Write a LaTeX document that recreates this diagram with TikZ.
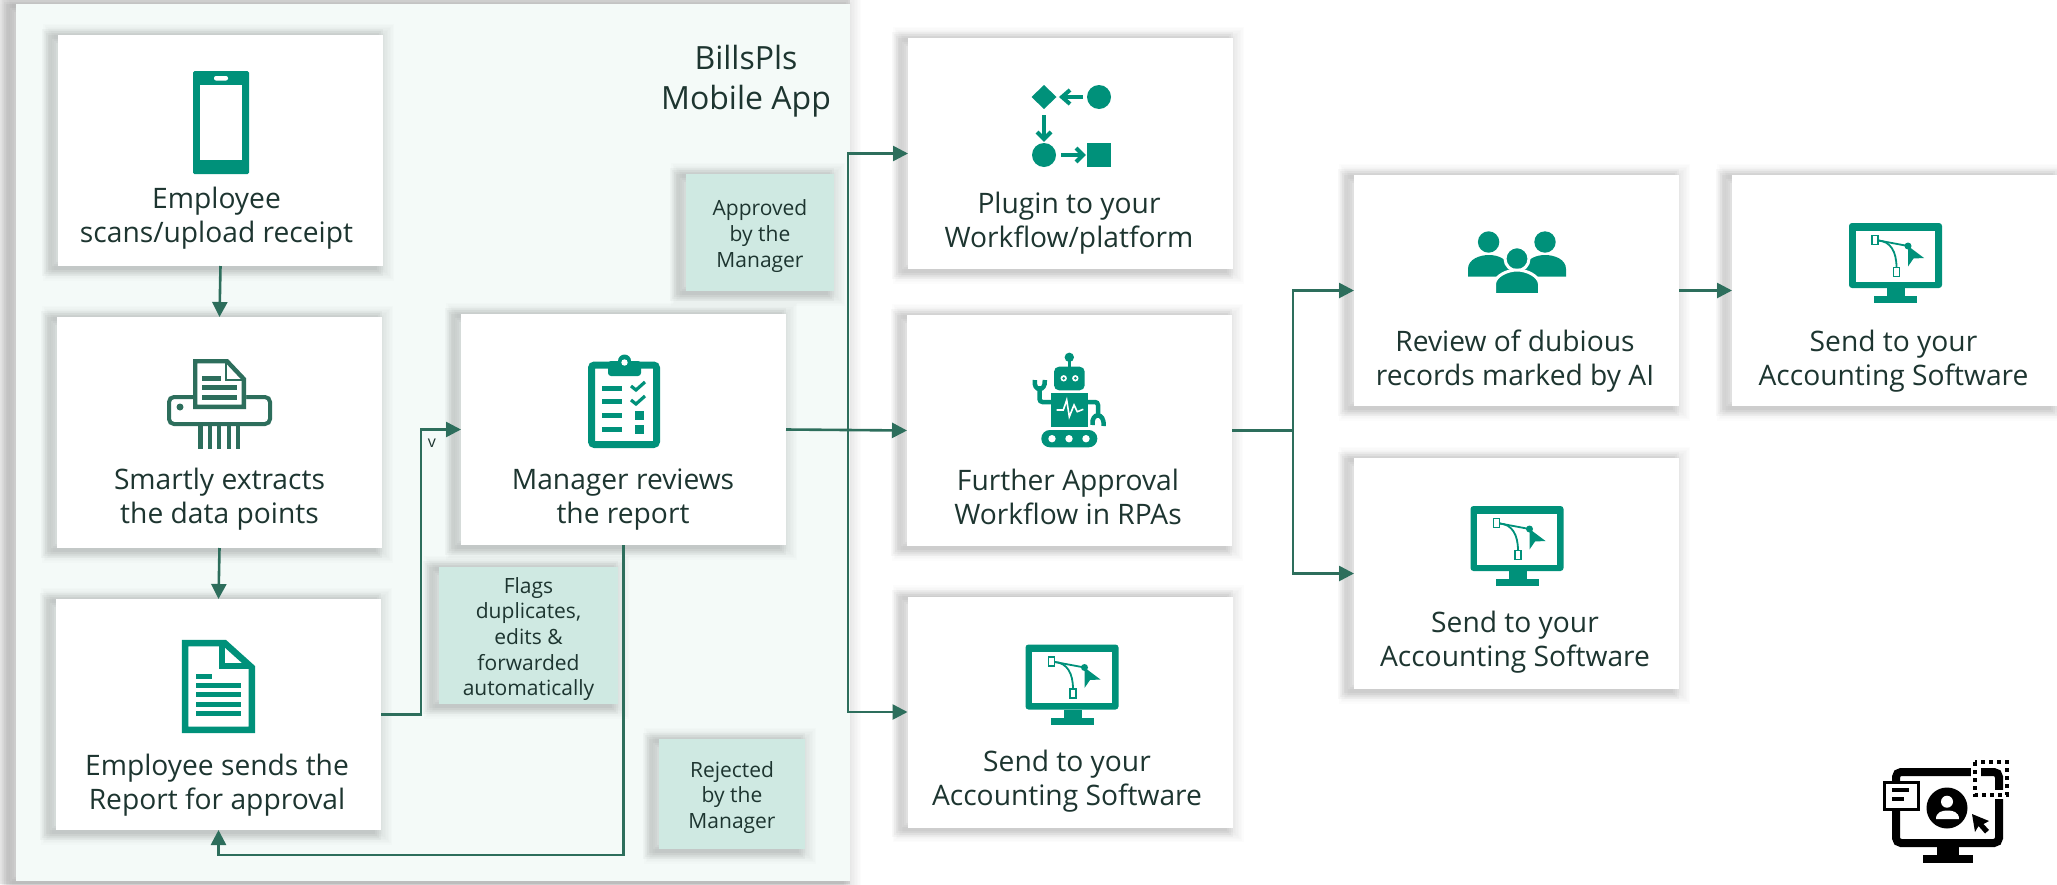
\documentclass[tikz,border=0pt]{standalone}
\usepackage{fontspec}
\setmainfont{Open Sans}
\usetikzlibrary{arrows.meta}
\definecolor{teal1}{HTML}{00917A}
\definecolor{teal2}{HTML}{2D6E5C}
\definecolor{ink}{HTML}{1D3530}
\definecolor{note}{HTML}{CFE9E2}
\definecolor{panelc}{HTML}{F4FAF8}
\newcommand\nudgetop{\rule{0pt}{23pt}}
\tikzset{
  softwide/.style={preaction={draw=black,draw opacity=.011,line width=#1,transform canvas={xshift=-2pt,yshift=-1.5pt}}},
  softleft/.style={preaction={draw=black,draw opacity=.028,line width=#1,transform canvas={xshift=-8pt,yshift=-1.5pt}}},
  softshadow/.style={
    softwide=26pt,softwide=23pt,softwide=20pt,softwide=17pt,softwide=14pt,softwide=11pt,softwide=8pt,softwide=5pt,
    softleft=16pt,softleft=12pt,softleft=8pt,softleft=4pt},
  card/.style={softshadow,rectangle,fill=white,inner sep=0pt,outer sep=0pt,minimum width=325pt,minimum height=231pt},
  notebox/.style={softshadow,rectangle,fill=note,inner sep=0pt,outer sep=0pt,text=ink,align=center,font=\fontsize{21}{25.6}\selectfont},
  cardtext/.style={text=ink,align=center,inner sep=0pt,anchor=center,font=\fontsize{28.2}{34}\selectfont},
  conn/.style={draw=teal2,line width=2.6pt},
  arr/.style={conn,-{Triangle[length=15pt,width=15pt]}},
  icon/.style={fill=teal1,draw=none},
  monitor/.pic={
    \fill[teal1,rounded corners=3pt] (-46.5,-32.5) rectangle (46.5,32.5);
    \fill[white] (-39.7,-24.8) rectangle (39.5,26.2);
    \fill[teal1] (-8.5,32.5) rectangle (9.5,40.5);
    \fill[teal1] (-21.5,40.5) rectangle (21.5,47.5);
    \draw[teal1,line width=1.8pt] (-17,-15) -- (12.5,-9.5);
    \draw[teal1,line width=1.8pt] (-17,-15) .. controls (-5,-14) and (1,-4) .. (1,12);
    \draw[teal1,line width=1.6pt,fill=white] (-23.5,-20) rectangle (-17.5,-11);
    \draw[teal1,line width=1.6pt,fill=white] (-2,12) rectangle (4,21);
    \fill[teal1] (12.5,-9.5) circle (3.5pt);
    \fill[teal1] (12.5,-9.5) -- (28.5,2.5) -- (18,3) -- (12.5,11) -- cycle;
  }
}
\begin{document}
\begin{tikzpicture}[x=1pt,y=-1pt]
\useasboundingbox (0,0) rectangle (2057,884);
\fill[white] (0,0) rectangle (2057,884);
\fill[black!8] (0,0) rectangle (20,884);
\fill[black!7] (0,0) rectangle (850,4);
\fill[black!7] (0,881) rectangle (850,884);
% panel
\node[softshadow,rectangle,fill=panelc,inner sep=0pt,outer sep=0pt,minimum width=834pt,minimum height=877pt] (panel) at (433,442.5) {};
\node[text=ink,align=center,inner sep=0pt,font=\fontsize{32}{40}\selectfont] (title) at (746,81) {BillsPls\\Mobile App};
% cards
\node[card] (scan) at (220.5,150.5) {};
\node[card] (extract) at (219.5,432.5) {};
\node[card] (send) at (218.5,714.5) {};
\node[card] (mgr) at (623.5,429.5) {};
\node[card] (plugin) at (1070.5,153.5) {};
\node[card] (rpa) at (1069.5,430.5) {};
\node[card] (acc) at (1070,712) {};
\node[card] (review) at (1516.5,290.5) {};
\node[card] (acc3) at (1516.5,573.5) {};
\node[card] (acc2) at (1894.5,290.5) {};
% notes
\node[notebox,minimum width=148pt,minimum height=117pt] (approved) at (760,232.5) {\nudgetop Approved\\by the\\Manager};
\node[notebox,minimum width=179pt,minimum height=137pt] (flags) at (528.5,635.5) {\nudgetop Flags\\duplicates,\\edits \&\\forwarded\\automatically};
\node[notebox,minimum width=146pt,minimum height=110pt] (rejected) at (732,794) {\nudgetop Rejected\\by the\\Manager};
% card texts
\node[cardtext] (t1) at (216.5,218) {Employee\\scans/upload receipt};
\node[cardtext] (t2) at (219.5,499) {Smartly extracts\\the data points};
\node[cardtext] (t3) at (217,785) {Employee sends the\\Report for approval};
\node[cardtext] (t4) at (623,500) {Manager reviews\\the report};
\node[cardtext] (t5) at (1069,223) {Plugin to your\\Workflow/platform};
\node[cardtext] (t6) at (1068,497) {Further Approval\\Workflow in RPAs};
\node[cardtext] (t7) at (1067,781) {Send to your\\Accounting Software};
\node[cardtext] (t8) at (1515,361) {Review of dubious\\records marked by AI};
\node[cardtext] (t9) at (1893.5,361) {Send to your\\Accounting Software};
\node[cardtext] (t10) at (1515,642) {Send to your\\Accounting Software};
% connectors
\coordinate (loopa) at (421,429.5);
\coordinate (rejb) at (623.5,855);
\coordinate (j1) at (848,429.5);
\coordinate (j2) at (1293,430.5);
\draw[arr] (scan.south) -- (extract.north);
\draw[arr] (extract.south) -- (send.north);
\draw[arr] (send.east) -| (loopa) -- (mgr.west);
\node[text=ink,inner sep=0pt,font=\fontsize{16}{18}\selectfont] (vmark) at (432,443) {v};
\draw[arr] (mgr.south) -- (rejb) -| (send.south);
\draw[arr] (mgr.east) -- (rpa.west);
\draw[arr] (j1) |- (plugin.west);
\draw[arr] (j1) |- (acc.west);
\draw[conn] (rpa.east) -- (j2);
\draw[arr] (j2) |- (review.west);
\draw[arr] (j2) |- (acc3.west);
\draw[arr] (review.east) -- (acc2.west);
% phone
\fill[teal1,rounded corners=1.5pt] (193,71) rectangle (249,174);
\fill[white] (199.5,85) rectangle (242,160);
\fill[white,rounded corners=2pt] (214,76) rectangle (228,80.5);
% shredder
\begin{scope}[teal2]
\draw[line width=4pt,rounded corners=5pt] (169,397) rectangle (270,424);
\fill (180,407) circle (3.5pt);
\fill[white] (193,359) -- (228,359) -- (246,378) -- (246,409) -- (193,409) -- cycle;
\draw[line width=4.4pt,line join=miter] (195.2,361.2) -- (227,361.2) -- (243.8,379) -- (243.8,406.8) -- (195.2,406.8) -- cycle;
\draw[line width=2.5pt] (226,361) -- (226,380) -- (244,380);
\fill (202,376) rectangle (221,381);
\fill (202,385) rectangle (237,390);
\fill (202,394.5) rectangle (237,399.5);
\foreach \sx in {198.3,207.6,216.8,226.7,236} {\fill (\sx,426) rectangle (\sx+4.4,449);}
\end{scope}
% document
\begin{scope}[teal1]
\draw[line width=6.5pt,line join=miter] (185.2,643.2) -- (224.8,643.2) -- (251.8,667.5) -- (251.8,729.8) -- (185.2,729.8) -- cycle;
\draw[line width=6pt,line join=miter] (221.5,641) -- (221.5,665.5) -- (252,665.5);
\fill (196,674) rectangle (212,679);
\foreach \ly in {683,692,702,711} {\fill (196,\ly) rectangle (241,\ly+5);}
\end{scope}
% clipboard
\begin{scope}[teal1]
\draw[line width=7pt,rounded corners=3pt] (591.5,365) rectangle (656.5,444.5);
\fill[rounded corners=3pt] (608,361) rectangle (641,376);
\fill (624.5,361) circle (6.5pt);
\fill[white] (624.5,362.5) circle (3.2pt);
\foreach \ly in {385.5,399,413,427} {\fill (602,\ly) rectangle (622,\ly+5);}
\draw[line width=3.2pt] (631,386) -- (636,390) -- (645,382);
\draw[line width=3.2pt] (631,400) -- (636,404) -- (645,396);
\fill (635,411) rectangle (644,420);
\fill (635,425) rectangle (644,434);
\end{scope}
% workflow icon
\begin{scope}[teal1]
\fill (1031.5,97) -- (1044,85) -- (1056.5,97) -- (1044,109) -- cycle;
\fill (1099,97) circle (12pt);
\fill (1044,155) circle (12pt);
\fill (1087,143) rectangle (1111,167);
\draw[line width=4.5pt] (1083,97) -- (1064,97);
\draw[line width=4pt] (1070,90) -- (1062,97) -- (1070,104);
\draw[line width=4.5pt] (1044,115) -- (1044,137);
\draw[line width=4pt] (1037,132) -- (1044,139) -- (1051,132);
\draw[line width=4.5pt] (1061,155) -- (1082,155);
\draw[line width=4pt] (1076,148) -- (1083,155) -- (1076,162);
\end{scope}
% robot
\begin{scope}[teal1]
\fill (1069.3,357.3) circle (4.7pt);
\draw[line width=3pt] (1069.3,360) -- (1069.3,368);
\fill[rounded corners=5pt] (1054,366.7) rectangle (1084.7,390.3);
\foreach \ex in {1063.7,1075.3} {\fill[white] (\ex,378.3) circle (3.2pt); \fill (\ex,378.3) circle (1.5pt);}
\fill (1051,393.3) rectangle (1088.3,426.7);
\draw[white,line width=1.6pt] (1056.7,410) -- (1063.3,410) -- (1066.7,400) -- (1069.3,416.7) -- (1074,405) -- (1077.3,411.7) -- (1083.3,409.3);
\fill[rounded corners=8.5pt] (1041.3,430) rectangle (1097.3,447.3);
\foreach \hx in {1052,1069,1086} {\fill[white] (\hx,438.7) circle (3.7pt);}
\draw[line width=4.5pt,rounded corners=3pt] (1039.5,386) -- (1039.5,402) -- (1052,402);
\draw[line width=4.5pt,rounded corners=3pt] (1087,402) -- (1098,402) -- (1098,416);
\draw[line width=4.5pt] (1034.8,380) .. controls (1033,392) and (1046,392) .. (1044.8,380);
\draw[line width=4.5pt] (1092.5,425) .. controls (1091,412) and (1105,412) .. (1103.5,426);
\end{scope}
% people
\begin{scope}[teal1]
\fill (1488.6,242) circle (10.7pt);
\fill (1545,242) circle (10.7pt);
\fill (1468,276.5) -- (1468,269) .. controls (1468,259) and (1480,255) .. (1489,255) .. controls (1498,255) and (1508,259) .. (1510,269) -- (1510,276.5) -- cycle;
\fill (1566,276.5) -- (1566,269) .. controls (1566,259) and (1554,255) .. (1545,255) .. controls (1536,255) and (1526,259) .. (1524,269) -- (1524,276.5) -- cycle;
\filldraw[draw=white,line width=3pt] (1517,258.7) circle (12pt);
\filldraw[draw=white,line width=3pt] (1494.5,295) -- (1494.5,284) .. controls (1495,276) and (1507,270) .. (1517,270) .. controls (1527,270) and (1539,276) .. (1539.5,284) -- (1539.5,295) -- cycle;
\fill[white] (1490,292.7) rectangle (1544,298);
\end{scope}
% monitors
\pic at (1895.5,255.5) {monitor};
\pic at (1072,677) {monitor};
\pic at (1517,538.5) {monitor};
% black icon
\begin{scope}[black]
\draw[line width=8pt,rounded corners=5pt] (1896,772) rectangle (1999,843);
\fill (1937,847) rectangle (1959,855);
\fill (1923,855) rectangle (1973,863);
\fill[white] (1971,758) rectangle (2011,799);
\draw[line width=8pt,rounded corners=5pt] (1981,772) -- (1999,772) -- (1999,790);
\fill[white] (1971,758) rectangle (1981,799);
\fill[white] (1981,790) rectangle (2011,799);
\draw[line width=4pt,dash pattern=on 4pt off 4pt] (1975,762) rectangle (2007,795);
\fill[white] (1885,783) rectangle (1917,808);
\draw[line width=3pt,fill=white] (1884.5,782.5) rectangle (1918.5,809.5);
\fill (1892,788) rectangle (1909,792);
\fill (1892,797) rectangle (1904,801);
\fill (1947,808) circle (20.5pt);
\fill[white] (1947,801.7) circle (6pt);
\fill[white] (1936,819) .. controls (1936,812) and (1942,810.5) .. (1947.5,810.5) .. controls (1953,810.5) and (1959,812) .. (1959,819) -- cycle;
\fill (1972,814) -- (1989,821) -- (1983.5,824) -- (1989,830) -- (1985,833.5) -- (1978.5,826) -- (1975,832) -- cycle;
\end{scope}
\end{tikzpicture}
\end{document}
